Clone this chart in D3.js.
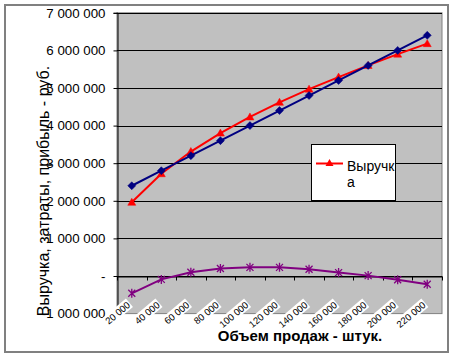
<!DOCTYPE html>
<html><head><meta charset="utf-8">
<script src="https://cdn.jsdelivr.net/npm/d3@7"></script>
<style>body{margin:0;background:#fff}svg{display:block;font-family:"Liberation Sans",Arial,sans-serif}</style>
</head><body>
<svg id="c" width="454" height="359"></svg>
<script>
const categories = ["20 000","40 000","60 000","80 000","100 000","120 000","140 000","160 000","180 000","200 000","220 000"];
const revenue = [1960000,2720000,3310000,3800000,4230000,4620000,4970000,5290000,5600000,5900000,6180000];
const costs   = [2400000,2800000,3200000,3600000,4000000,4400000,4800000,5200000,5600000,6000000,6400000];
const profit  = [-460000,-90000,100000,200000,230000,230000,180000,90000,10000,-100000,-220000];
const yTicks = [-1000000,0,1000000,2000000,3000000,4000000,5000000,6000000,7000000];
const yTickLabels = ["-1 000 000","-","1 000 000","2 000 000","3 000 000","4 000 000","5 000 000","6 000 000","7 000 000"];
const legendLabel = ["Выручк","а"];
const yTitle = "Выручка, затраты, прибыль - руб.";
const xTitle = "Объем продаж - штук.";

const svg = d3.select("#c");
const L = 117, R = 442, T = 12.8, B = 313.6;
const x = d3.scaleBand().domain(categories).range([L, R]);
const cx = d => x(d) + x.bandwidth()/2;
const y = d3.scaleLinear().domain([-1000000, 7000000]).range([B, T]);

// chart border
svg.append("rect").attr("x",5).attr("y",5).attr("width",443).attr("height",347)
  .attr("fill","#fff").attr("stroke","#808080").attr("stroke-width",2);
// plot area
svg.append("rect").attr("x",L).attr("y",T).attr("width",R-L).attr("height",B-T)
  .attr("fill","#c0c0c0").attr("stroke","#808080").attr("stroke-width",1);
// gridlines
svg.append("g").selectAll("line").data(yTicks.filter(v=>v>-1000000)).join("line")
  .attr("x1",L).attr("x2",R).attr("y1",d=>Math.round(y(d))+0.5).attr("y2",d=>Math.round(y(d))+0.5)
  .attr("stroke","#000").attr("stroke-width",1);

// y axis
const yAxis = d3.axisLeft(y).tickValues(yTicks).tickSize(4).tickFormat((d,i)=>yTickLabels[i]).tickPadding(8);
const gy = svg.append("g").attr("transform",`translate(${L+0.5},0)`).call(yAxis);
gy.select(".domain").attr("stroke","#000");
gy.selectAll(".tick line").attr("stroke","#000");
gy.selectAll(".tick text").attr("font-size","13.3px").attr("fill","#000")
  .attr("font-family","'Liberation Sans',Arial,sans-serif");

// x axis at zero
const xAxis = d3.axisBottom(x).tickSize(0).tickFormat("");
const gx = svg.append("g").attr("transform",`translate(0,${Math.round(y(0))+0.5})`).call(xAxis);
gx.select(".domain").attr("stroke","#000");
const bounds = categories.map(c=>x(c)).concat([R]);
gx.selectAll(".bt").data(bounds).join("line").attr("class","bt")
  .attr("x1",d=>Math.round(d)+0.5).attr("x2",d=>Math.round(d)+0.5).attr("y1",0).attr("y2",4).attr("stroke","#000");

// x tick labels (rotated, with white background)
const xl = svg.append("g").selectAll("g").data(categories).join("g")
  .attr("transform",d=>`translate(${cx(d)-3},${B-10}) rotate(-40)`);
xl.append("rect");
xl.append("text").text(d=>d).attr("text-anchor","end").attr("dy","0.35em")
  .attr("font-size","9.5px").attr("fill","#000");
xl.each(function(){
  const g = d3.select(this); const bb = g.select("text").node().getBBox();
  g.select("rect").attr("x",bb.x-1).attr("y",bb.y).attr("width",bb.width+2).attr("height",bb.height).attr("fill","#fff");
});

// series
const line = d3.line().x((d,i)=>cx(categories[i])).y(d=>y(d));
function series(vals,color,shape){
  svg.append("path").datum(vals).attr("d",line).attr("fill","none").attr("stroke",color).attr("stroke-width",2);
  const m = svg.append("g").selectAll("path").data(vals).join("path")
    .attr("transform",(d,i)=>`translate(${cx(categories[i])},${y(d)})`).attr("d",shape);
  if(shape.indexOf("Z")>=0) m.attr("fill",color).attr("stroke",color).attr("stroke-width",0.5);
  else m.attr("fill","none").attr("stroke",color).attr("stroke-width",1.3);
}
const tri = "M0,-4L4,3L-4,3Z";
const dia = "M0,-4L4,0L0,4L-4,0Z";
const star = "M-3.5,-3.5L3.5,3.5M-3.5,3.5L3.5,-3.5M0,-4.5L0,4.5";
series(revenue,"#ff0000",tri);
series(costs,"#000080",dia);
series(profit,"#800080",star);

// legend
const lg = svg.append("g");
lg.append("rect").attr("x",311.5).attr("y",144.5).attr("width",84).attr("height",56)
  .attr("fill","#fff").attr("stroke","#000").attr("stroke-width",1);
lg.append("line").attr("x1",316).attr("x2",343).attr("y1",163.5).attr("y2",163.5).attr("stroke","#ff0000").attr("stroke-width",2);
lg.append("path").attr("transform","translate(329.5,163)").attr("d",tri).attr("fill","#ff0000");
lg.append("text").attr("x",347).attr("y",170.5).attr("font-size","14px").text(legendLabel[0]);
lg.append("text").attr("x",347).attr("y",186.5).attr("font-size","14px").text(legendLabel[1]);

// axis titles
svg.append("text").attr("transform","translate(43,191) rotate(-90)").attr("text-anchor","middle")
  .attr("dominant-baseline","central").attr("font-size","16px").text(yTitle);
svg.append("text").attr("x",300).attr("y",341).attr("text-anchor","middle")
  .attr("font-size","15px").attr("font-weight","bold").text(xTitle);
</script>
</body></html>
